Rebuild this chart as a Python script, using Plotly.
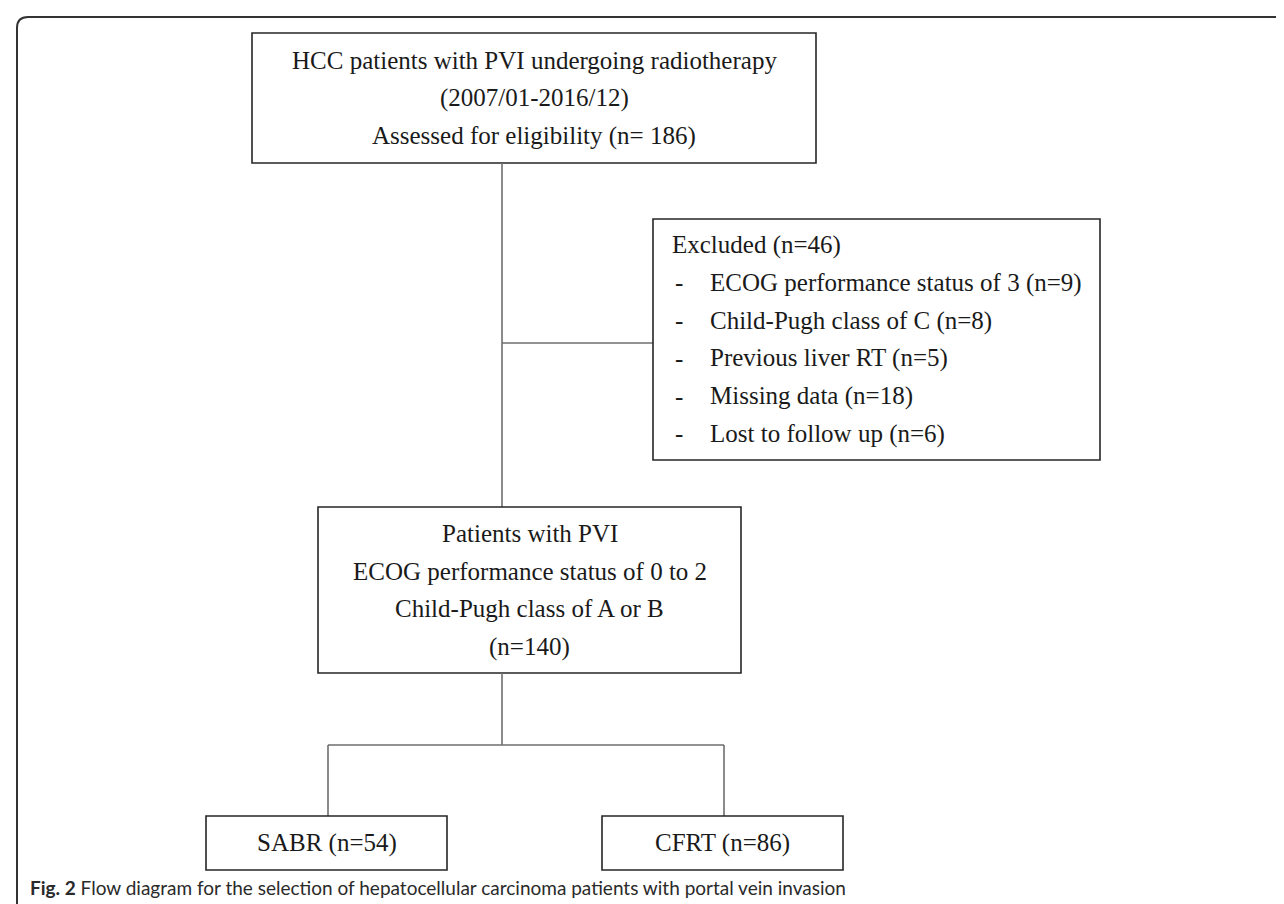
import plotly.graph_objects as go

# ---------------- data (texts and counts) ----------------
source_lines = ["HCC patients with PVI undergoing radiotherapy", "(2007/01-2016/12)"]
assessed_label = "Assessed for eligibility"
assessed_n = 186

excluded_label = "Excluded"
excluded_n = 46
exclusion_reasons = ["ECOG performance status of 3", "Child-Pugh class of C",
                     "Previous liver RT", "Missing data", "Lost to follow up"]
exclusion_counts = [9, 8, 5, 18, 6]

eligible_lines = ["Patients with PVI", "ECOG performance status of 0 to 2",
                  "Child-Pugh class of A or B"]
eligible_n = 140

arm_names = ["SABR", "CFRT"]
arm_counts = [54, 86]

caption_bold = "Fig. 2"
caption_text = "Flow diagram for the selection of hepatocellular carcinoma patients with portal vein invasion"

# ---------------- layout geometry (pixels) ----------------
W, H = 1284, 904
geom = {
    "top": (244, 25, 808, 155),
    "excl": (645, 211, 1092, 452),
    "mid": (310, 499, 733, 665),
    "arms": [(198, 808, 439, 862), (594, 808, 835, 862)],
    "trunk_x": 494,
    "side_y": 335,
    "branch_y": 737,
    "arm_x": [320, 716],
    "line_h": 37.7,
}
SERIF = "Liberation Serif"
TXT = "#1a1a1a"
BOX = "#262626"
CONN = "#6e6e6e"

fig = go.Figure()
shapes = []
ann = []


def rect(b):
    shapes.append(dict(type="rect", x0=b[0], y0=b[1], x1=b[2], y1=b[3],
                       line=dict(color=BOX, width=1.6), fillcolor="rgba(0,0,0,0)"))


def line(x0, y0, x1, y1, color=CONN):
    shapes.append(dict(type="line", x0=x0, y0=y0, x1=x1, y1=y1,
                       line=dict(color=color, width=1.6)))


def text(x, y, s, anchor="center", size=25):
    ann.append(dict(x=x, y=y, text=s, showarrow=False, xanchor=anchor, yanchor="middle",
                    font=dict(family=SERIF, size=size, color=TXT)))


# outer frame (rounded top-left corner)
shapes.append(dict(type="path", path=f"M 9,{H+10} L 9,20 Q 9,9 20,9 L {W+10},9",
                   line=dict(color="#333333", width=2)))

# top box
rect(geom["top"])
tx = (geom["top"][0] + geom["top"][2]) / 2
ty = (geom["top"][1] + geom["top"][3]) / 2
top_lines = source_lines + [f"{assessed_label} (n= {assessed_n})"]
for i, s in enumerate(top_lines):
    text(tx, ty + (i - (len(top_lines) - 1) / 2) * geom["line_h"], s)

# trunk and side connector
line(geom["trunk_x"], geom["top"][3], geom["trunk_x"], geom["mid"][1])
line(geom["trunk_x"], geom["side_y"], geom["excl"][0], geom["side_y"])

# excluded box
rect(geom["excl"])
ex_lines = [f"{excluded_label} (n={excluded_n})"] + [f"{r} (n={c})" for r, c in zip(exclusion_reasons, exclusion_counts)]
ey = (geom["excl"][1] + geom["excl"][3]) / 2
for i, s in enumerate(ex_lines):
    y = ey + (i - (len(ex_lines) - 1) / 2) * geom["line_h"]
    if i == 0:
        text(geom["excl"][0] + 17, y, s, anchor="left")
    else:
        text(geom["excl"][0] + 20, y, "-", anchor="left")
        text(geom["excl"][0] + 55, y, s, anchor="left")

# eligible box
rect(geom["mid"])
mx = (geom["mid"][0] + geom["mid"][2]) / 2
my = (geom["mid"][1] + geom["mid"][3]) / 2
mid_lines = eligible_lines + [f"(n={eligible_n})"]
for i, s in enumerate(mid_lines):
    text(mx, my + (i - (len(mid_lines) - 1) / 2) * geom["line_h"], s)

# branch
line(geom["trunk_x"], geom["mid"][3], geom["trunk_x"], geom["branch_y"])
line(geom["arm_x"][0], geom["branch_y"], geom["arm_x"][1], geom["branch_y"])
for ax_, b, name, n in zip(geom["arm_x"], geom["arms"], arm_names, arm_counts):
    line(ax_, geom["branch_y"], ax_, b[1])
    rect(b)
    text((b[0] + b[2]) / 2, (b[1] + b[3]) / 2, f"{name} (n={n})")

# caption
ann.append(dict(x=20, y=879, xanchor="left", yanchor="middle", showarrow=False,
                text=f"<b>{caption_bold}</b> {caption_text}",
                font=dict(family="Lato", size=19, color="#2a2a2a")))

fig.update_layout(
    width=W, height=H, margin=dict(l=0, r=0, t=0, b=0),
    paper_bgcolor="white", plot_bgcolor="white",
    xaxis=dict(range=[0, W], visible=False, fixedrange=True),
    yaxis=dict(range=[H, 0], visible=False, fixedrange=True),
    shapes=shapes, annotations=ann, showlegend=False,
)
fig.write_html("out.html", config={"displayModeBar": False})
